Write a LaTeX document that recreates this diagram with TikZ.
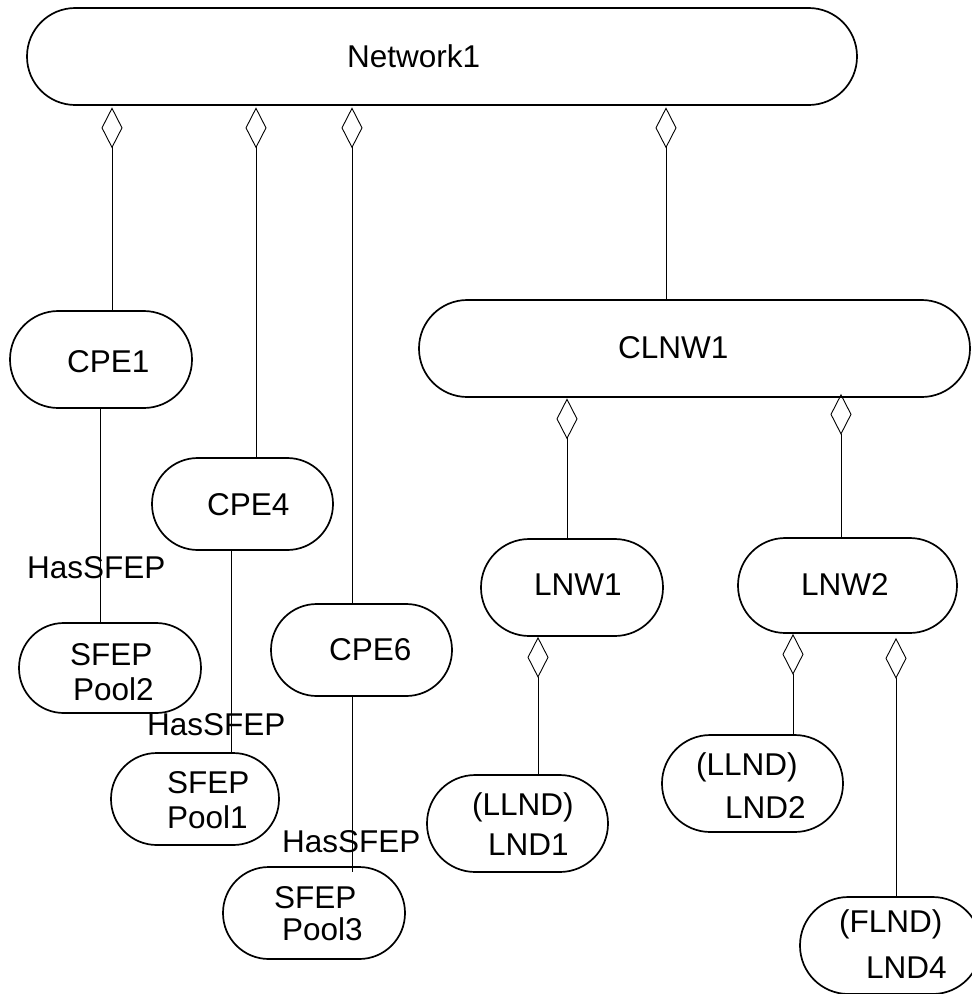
\documentclass[tikz,border=0pt]{standalone}
\usepackage{fontspec}
\setmainfont{Liberation Sans}
\usetikzlibrary{arrows.meta}
\begin{document}
\begin{tikzpicture}[x=1pt,y=-1pt,
  pill/.style={draw, line width=1.7pt, inner sep=0pt, minimum width=#1},
  pillh/.style={minimum height=#1, rounded corners=#1/2-0.2pt},
  lbl/.style={anchor=base west, inner sep=0pt, font=\fontsize{31.5}{36}\selectfont},
  conn/.style={line width=0.9pt},
  agg/.style={conn, {Diamond[open,length=41pt,width=21pt]}-}
]
\useasboundingbox (0,0) rectangle (972,994);
% boxes
\node[pill=830, pillh=97] (net) at (442,56.5) {};
\node[pill=182, pillh=97] (cpe1) at (101,359.5) {};
\node[pill=181, pillh=92] (cpe4) at (242.5,504) {};
\node[pill=181, pillh=92] (cpe6) at (361.5,650) {};
\node[pill=182, pillh=90] (pool2) at (110,668) {};
\node[pill=168, pillh=92] (pool1) at (195,799) {};
\node[pill=182, pillh=92] (pool3) at (314,913) {};
\node[pill=551, pillh=97] (clnw) at (694.5,348.5) {};
\node[pill=182, pillh=97] (lnw1) at (572,587.5) {};
\node[pill=219, pillh=95] (lnw2) at (847.5,585.5) {};
\node[pill=181, pillh=97] (lnd1) at (517.5,823.5) {};
\node[pill=181, pillh=97] (lnd2) at (752.5,783.5) {};
\node[pill=181, pillh=97] (lnd4) at (890.5,945.5) {};
% texts
\node[lbl] (tnet) at (347,67) {Network1};
\node[lbl] (tcpe1) at (67,372) {CPE1};
\node[lbl] (tcpe4) at (207,515) {CPE4};
\node[lbl] (tcpe6) at (329,660) {CPE6};
\node[lbl] (tpool2a) at (70,665) {SFEP};
\node[lbl] (tpool2b) at (73,700) {Pool2};
\node[lbl] (tpool1a) at (167,793) {SFEP};
\node[lbl] (tpool1b) at (167,828) {Pool1};
\node[lbl] (tpool3a) at (274,908) {SFEP};
\node[lbl] (tpool3b) at (282,940) {Pool3};
\node[lbl] (tclnw) at (618,358) {CLNW1};
\node[lbl] (tlnw1) at (534,595) {LNW1};
\node[lbl] (tlnw2) at (801,595) {LNW2};
\node[lbl] (tlnd1a) at (472,815) {(LLND)};
\node[lbl] (tlnd1b) at (488,855) {LND1};
\node[lbl] (tlnd2a) at (696,775) {(LLND)};
\node[lbl] (tlnd2b) at (725,818) {LND2};
\node[lbl] (tlnd4a) at (839,932) {(FLND)};
\node[lbl] (tlnd4b) at (866,978) {LND4};
% x positions of connectors
\coordinate (x1) at (112,0);
\coordinate (x2) at (256,0);
\coordinate (x3) at (352,0);
\coordinate (x4) at (666,0);
\coordinate (x5) at (100,0);
\coordinate (x6) at (231,0);
\coordinate (x7) at (567,0);
\coordinate (x8) at (841,0);
\coordinate (x9) at (538,0);
\coordinate (x10) at (793,0);
\coordinate (x11) at (896,0);
% aggregation connectors
\draw[agg, shorten <=1.5pt] (net.south -| x1) -- (cpe1.north -| x1);
\draw[agg, shorten <=1.5pt] (net.south -| x2) -- (cpe4.north -| x2);
\draw[agg, shorten <=1.5pt] (net.south -| x3) -- (cpe6.north -| x3);
\draw[agg, shorten <=1.5pt] (net.south -| x4) -- (clnw.north -| x4);
\draw[agg, shorten <=0.5pt] (clnw.south -| x7) -- (lnw1.north -| x7);
\draw[agg, shorten <=-4pt] (clnw.south -| x8) -- (lnw2.north -| x8);
\draw[agg, shorten <=0pt] (lnw1.south -| x9) -- (lnd1.north -| x9);
\draw[agg, shorten <=0pt] (lnw2.south -| x10) -- (lnd2.north -| x10);
\draw[agg, shorten <=4pt] (lnw2.south -| x11) -- (lnd4.north -| x11);
% HasSFEP connectors
\draw[conn] (cpe1.south -| x5) -- (pool2.north -| x5);
\draw[conn] (cpe4.south -| x6) -- (pool1.north -| x6);
\draw[conn, shorten >=-6pt] (cpe6.south -| x3) -- (pool3.north -| x3);
% HasSFEP labels
\node[lbl] (has1) at (27,578) {HasSFEP};
\node[lbl] (has2) at (147,735) {HasSFEP};
\node[lbl] (has3) at (282,852) {HasSFEP};
\end{tikzpicture}
\end{document}
